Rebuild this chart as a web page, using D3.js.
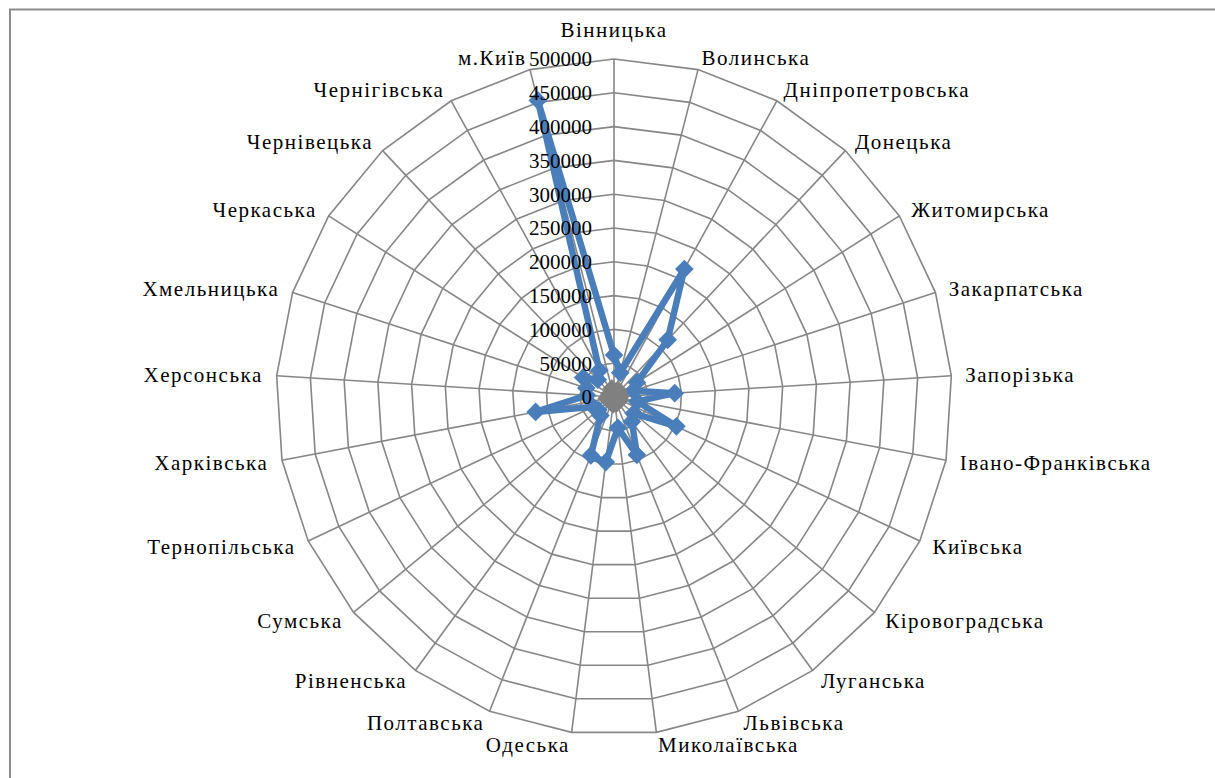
<!DOCTYPE html>
<html>
<head>
<meta charset="utf-8">
<script src="https://d3js.org/d3.v7.min.js"></script>
<style>
  body { margin: 0; background: #fff; }
</style>
</head>
<body>
<svg id="chart" width="1215" height="778"></svg>
<script>
// regions, clockwise from the top
const regions = [
  "Вінницька", "Волинська", "Дніпропетровська", "Донецька", "Житомирська",
  "Закарпатська", "Запорізька", "Івано-Франківська", "Київська", "Кіровоградська",
  "Луганська", "Львівська", "Миколаївська", "Одеська", "Полтавська",
  "Рівненська", "Сумська", "Тернопільська", "Харківська", "Херсонська",
  "Хмельницька", "Черкаська", "Чернівецька", "Чернігівська", "м.Київ"
];

// blue series
const seriesA = [
  62000, 37000, 216000, 116000, 40000,
  30000, 90000, 35000, 102000, 38000,
  45000, 92000, 46000, 97000, 93000,
  34000, 30000, 34000, 118000, 40000,
  43000, 54000, 35000, 45000, 453000
];

// grey series
const seriesB = [
  9000, 7000, 12000, 10000, 7500,
  7000, 9500, 7500, 10000, 7000,
  8000, 10000, 7500, 11000, 9500,
  7000, 7500, 7000, 11000, 7500,
  7500, 8000, 7000, 7500, 13000
];

const tickValues = [0, 50000, 100000, 150000, 200000, 250000, 300000, 350000, 400000, 450000, 500000];

const FONT = '"Liberation Serif", "Times New Roman", Tinos, "DejaVu Serif", serif';

const svg = d3.select('svg#chart');
const cx = 614, cy = 397, R = 338;

// chart area frame (runs off the right / bottom edge)
svg.append('rect')
  .attr('x', 10).attr('y', 9.5)
  .attr('width', 1300).attr('height', 900)
  .attr('fill', 'none')
  .attr('stroke', '#8c8c8c')
  .attr('stroke-width', 2);

const g = svg.append('g').attr('transform', `translate(${cx},${cy})`);

const r = d3.scaleLinear().domain([0, 500000]).range([0, R]);
const angle = d3.scaleLinear().domain([0, regions.length]).range([0, 2 * Math.PI]);

const px = (i, v) => Math.sin(angle(i)) * r(v);
const py = (i, v) => -Math.cos(angle(i)) * r(v);

// rings
const ring = d3.lineRadial()
  .angle((d, i) => angle(i))
  .radius(d => r(d))
  .curve(d3.curveLinearClosed);

g.append('g').selectAll('path')
  .data(tickValues.slice(1))
  .enter().append('path')
  .attr('d', t => ring(regions.map(() => t)))
  .attr('fill', 'none')
  .attr('stroke', '#868686')
  .attr('stroke-width', 1.6);

// spokes
g.append('g').selectAll('line')
  .data(regions)
  .enter().append('line')
  .attr('x1', 0).attr('y1', 0)
  .attr('x2', (d, i) => px(i, 500000))
  .attr('y2', (d, i) => py(i, 500000))
  .attr('stroke', '#868686')
  .attr('stroke-width', 1.6);

// category labels
g.append('g').selectAll('text')
  .data(regions)
  .enter().append('text')
  .each(function(d, i) {
    const s = Math.sin(angle(i)), c = Math.cos(angle(i));
    const vx = px(i, 500000), vy = py(i, 500000);
    const el = d3.select(this);
    if (Math.abs(s) < 0.05) {
      el.attr('x', vx).attr('y', vy - 29).attr('text-anchor', 'middle');
    } else {
      el.attr('x', vx + 14 * s).attr('y', vy - 12.5 * c)
        .attr('text-anchor', s > 0 ? 'start' : 'end');
    }
  })
  .attr('dy', '0.35em')
  .style('font-family', FONT)
  .style('font-size', '21px')
  .style('letter-spacing', '1.5px')
  .text(d => d);

// series
const diamond = d3.symbol().type(d3.symbolSquare).size(175);

function drawSeries(values, color) {
  const sg = g.append('g');
  sg.append('path')
    .attr('d', ring(values))
    .attr('fill', 'none')
    .attr('stroke', color)
    .attr('stroke-width', 6.5)
    .attr('stroke-linejoin', 'round');
  sg.selectAll('path.mk')
    .data(values)
    .enter().append('path')
    .attr('class', 'mk')
    .attr('d', diamond)
    .attr('transform', (d, i) => `translate(${px(i, d)},${py(i, d)}) rotate(45)`)
    .attr('fill', color);
}

drawSeries(seriesA, '#4a7ebb');
drawSeries(seriesB, '#808080');

// value labels along the vertical axis
g.append('g').selectAll('text')
  .data(tickValues)
  .enter().append('text')
  .attr('x', -22)
  .attr('y', d => -r(d))
  .attr('dy', '0.35em')
  .attr('text-anchor', 'end')
  .style('font-family', FONT)
  .style('font-size', '21px')
  .text(d => d);
</script>
</body>
</html>
